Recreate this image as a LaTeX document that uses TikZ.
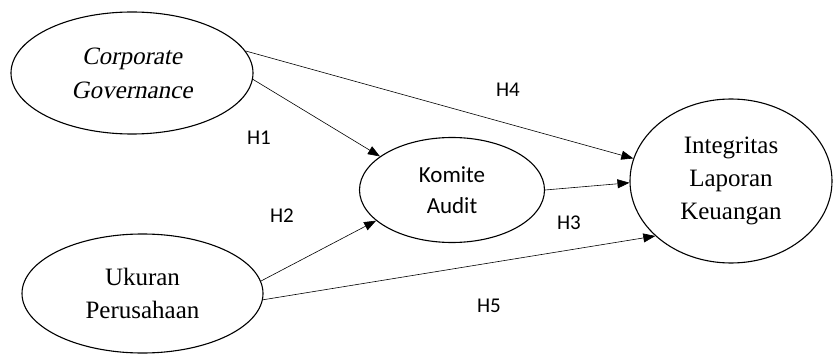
\documentclass[tikz,border=0pt]{standalone}
\usepackage{fontspec}
\setmainfont{Liberation Serif}
\newfontfamily\calibri{Carlito}
\newfontfamily\slanted{Liberation Serif}[FakeSlant=0.2]
\usepackage{tikz}
\usetikzlibrary{shapes}
\usetikzlibrary{arrows.meta}

\begin{document}
\begin{tikzpicture}[x=1pt,y=1pt,
    var/.style={draw,ellipse,line width=1.1pt,inner sep=0pt,align=center,
      font=\fontsize{25}{33}\selectfont},
    hyp/.style={-{Triangle[length=12pt,width=9pt]},line width=0.6pt},
    lbl/.style={inner sep=0pt,font=\calibri\fontsize{21}{24}\selectfont}]
      \useasboundingbox (0,0) rectangle (833,354);
      % constructs
      \node[var,minimum width=242,minimum height=122,
        font=\slanted\fontsize{25}{34}\selectfont] (cg) at (132,281)
        {Corporate\\Governance};
      \node[var,minimum width=241,minimum height=119] (up) at (142.5,60.5)
        {Ukuran\\Perusahaan};
      \node[var,minimum width=185,minimum height=105,
        font=\calibri\fontsize{23}{31}\selectfont] (ka) at (452,164)
        {Komite\\Audit};
      \node[var,minimum width=202,minimum height=164] (ilk) at (731,173)
        {Integritas\\Laporan\\Keuangan};
      % hypotheses
      \path (cg.-3) edge[hyp] (ka.155);
      \path (up.6) edge[hyp] (ka.202);
      \path (ka.east) edge[hyp] (ilk.181);
      \path (cg.11) edge[hyp] (ilk.167);
      \path (up.-3) edge[hyp] (ilk.216);
      \node[lbl] (h1) at (259,216) {H1};
      \node[lbl] (h2) at (282,138) {H2};
      \node[lbl] (h3) at (569,131) {H3};
      \node[lbl] (h4) at (508,264) {H4};
      \node[lbl] (h5) at (489,48) {H5};
    \end{tikzpicture}
\end{document}
